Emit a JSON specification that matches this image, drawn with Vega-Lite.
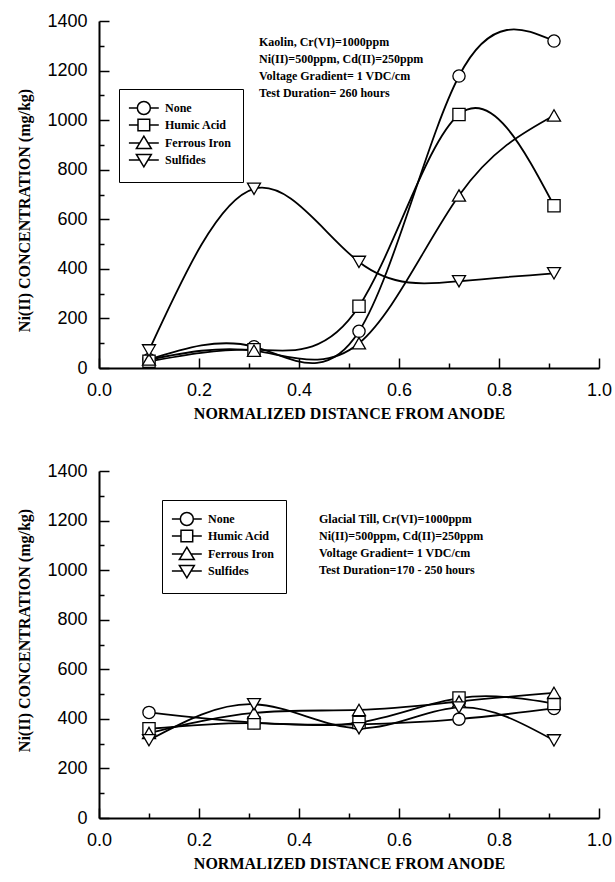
{
  "$schema": "https://vega.github.io/schema/vega-lite/v6.json",
  "padding": {"left": 16, "top": 12, "right": 0, "bottom": 0},
  "autosize": {"type": "pad"},
  "background": "white",
  "datasets": {
    "top": [
      {"series": "None", "x": 0.1, "y": 34},
      {"series": "None", "x": 0.31, "y": 86},
      {"series": "None", "x": 0.52, "y": 148},
      {"series": "None", "x": 0.72, "y": 1178},
      {"series": "None", "x": 0.91, "y": 1319},
      {"series": "Humic Acid", "x": 0.1, "y": 27},
      {"series": "Humic Acid", "x": 0.31, "y": 74},
      {"series": "Humic Acid", "x": 0.52, "y": 249},
      {"series": "Humic Acid", "x": 0.72, "y": 1023},
      {"series": "Humic Acid", "x": 0.91, "y": 655},
      {"series": "Ferrous Iron", "x": 0.1, "y": 34},
      {"series": "Ferrous Iron", "x": 0.31, "y": 70},
      {"series": "Ferrous Iron", "x": 0.52, "y": 100},
      {"series": "Ferrous Iron", "x": 0.72, "y": 696},
      {"series": "Ferrous Iron", "x": 0.91, "y": 1019},
      {"series": "Sulfides", "x": 0.1, "y": 71},
      {"series": "Sulfides", "x": 0.31, "y": 723},
      {"series": "Sulfides", "x": 0.52, "y": 428},
      {"series": "Sulfides", "x": 0.72, "y": 350},
      {"series": "Sulfides", "x": 0.91, "y": 382}
    ],
    "bottom": [
      {"series": "None", "x": 0.1, "y": 426},
      {"series": "None", "x": 0.31, "y": 385},
      {"series": "None", "x": 0.52, "y": 378},
      {"series": "None", "x": 0.72, "y": 399},
      {"series": "None", "x": 0.91, "y": 442},
      {"series": "Humic Acid", "x": 0.1, "y": 360},
      {"series": "Humic Acid", "x": 0.31, "y": 383},
      {"series": "Humic Acid", "x": 0.52, "y": 385},
      {"series": "Humic Acid", "x": 0.72, "y": 484},
      {"series": "Humic Acid", "x": 0.91, "y": 462},
      {"series": "Ferrous Iron", "x": 0.1, "y": 343},
      {"series": "Ferrous Iron", "x": 0.31, "y": 424},
      {"series": "Ferrous Iron", "x": 0.52, "y": 436},
      {"series": "Ferrous Iron", "x": 0.72, "y": 470},
      {"series": "Ferrous Iron", "x": 0.91, "y": 505},
      {"series": "Sulfides", "x": 0.1, "y": 314},
      {"series": "Sulfides", "x": 0.31, "y": 459},
      {"series": "Sulfides", "x": 0.52, "y": 362},
      {"series": "Sulfides", "x": 0.72, "y": 446},
      {"series": "Sulfides", "x": 0.91, "y": 313}
    ]
  },
  "vconcat": [
    {
      "width": 500,
      "height": 347,
      "data": {"name": "top"},
      "layer": [
        {
          "mark": {"type": "line", "interpolate": "natural", "color": "black", "strokeWidth": 1.8},
          "encoding": {
            "x": {"field": "x", "type": "quantitative", "scale": {"domain": [0, 1]},
              "axis": {"orient": "bottom", "values": [0, 0.2, 0.4, 0.6, 0.8, 1], "format": ".1f", "tickSize": -10, "labelPadding": 23, "title": "NORMALIZED DISTANCE FROM ANODE", "titlePadding": 6}},
            "y": {"field": "y", "type": "quantitative", "scale": {"domain": [0, 1400]},
              "axis": {"orient": "left", "values": [0, 200, 400, 600, 800, 1000, 1200, 1400], "format": "d", "tickSize": -10, "labelPadding": 22, "title": "Ni(II) CONCENTRATION (mg/kg)", "titlePadding": 14, "titleY": 189, "titleAnchor": "middle"}},
            "detail": {"field": "series"}
          }
        },
        {
          "transform": [{"filter": "datum.series === 'None'"}],
          "mark": {"type": "point", "shape": "circle", "filled": true, "fill": "white", "stroke": "black", "strokeWidth": 1.3, "size": 150, "opacity": 1},
          "encoding": {"x": {"field": "x", "type": "quantitative", "axis": null}, "y": {"field": "y", "type": "quantitative", "axis": null}}
        },
        {
          "transform": [{"filter": "datum.series === 'Humic Acid'"}],
          "mark": {"type": "point", "shape": "square", "filled": true, "fill": "white", "stroke": "black", "strokeWidth": 1.3, "size": 150, "opacity": 1},
          "encoding": {"x": {"field": "x", "type": "quantitative", "axis": null}, "y": {"field": "y", "type": "quantitative", "axis": null}}
        },
        {
          "transform": [{"filter": "datum.series === 'Ferrous Iron'"}],
          "mark": {"type": "point", "shape": "triangle-up", "filled": true, "fill": "white", "stroke": "black", "strokeWidth": 1.3, "size": 170, "opacity": 1},
          "encoding": {"x": {"field": "x", "type": "quantitative", "axis": null}, "y": {"field": "y", "type": "quantitative", "axis": null}}
        },
        {
          "transform": [{"filter": "datum.series === 'Sulfides'"}],
          "mark": {"type": "point", "shape": "triangle-down", "filled": true, "fill": "white", "stroke": "black", "strokeWidth": 1.3, "size": 170, "opacity": 1},
          "encoding": {"x": {"field": "x", "type": "quantitative", "axis": null}, "y": {"field": "y", "type": "quantitative", "axis": null}}
        },
        {
          "transform": [{"filter": "false"}],
          "mark": {"type": "point", "filled": false, "color": "black", "strokeWidth": 1.5, "opacity": 1, "size": 169},
          "encoding": {
            "x": {"field": "x", "type": "quantitative",
              "axis": {"orient": "bottom", "values": [0.1, 0.3, 0.5, 0.7, 0.9], "tickSize": -5, "labels": false, "domain": false, "title": null}},
            "y": {"field": "y", "type": "quantitative",
              "axis": {"orient": "left", "values": [100, 300, 500, 700, 900, 1100, 1300], "tickSize": -5, "labels": false, "domain": false, "title": null}},
            "shape": {"field": "series", "scale": {"domain": ["None", "Humic Acid", "Ferrous Iron", "Sulfides"], "range": [
              "M-1.4,0H-0.1M1.9,0H3.2M1.9,0A1,1,0,1,1,-0.1,0A1,1,0,1,1,1.9,0Z",
              "M-1.4,0H0M1.8,0H3.2M0,-0.9H1.8V0.9H0Z",
              "M-1.4,0H0.28M1.52,0H3.2M0.9,-1.05L2.05,0.85H-0.25Z",
              "M-1.4,0H0.28M1.52,0H3.2M0.9,1.05L2.05,-0.85H-0.25Z"
            ]},
              "legend": {"orient": "none", "legendX": 20, "legendY": 68, "title": null, "strokeColor": "black", "fillColor": "white", "padding": 11.5, "symbolSize": 169, "symbolStrokeColor": "black", "symbolStrokeWidth": 1.5, "labelFont": "Liberation Serif", "labelFontWeight": "bold", "labelFontSize": 12, "labelColor": "black", "labelOffset": 19.5, "rowPadding": -2}}
          }
        },
        {
          "data": {"values": [{"note": "Kaolin, Cr(VI)=1000ppm\nNi(II)=500ppm, Cd(II)=250ppm\nVoltage Gradient= 1 VDC/cm\nTest Duration= 260 hours"}]},
          "mark": {"type": "text", "font": "Liberation Serif", "fontWeight": "bold", "fontSize": 12, "align": "left", "baseline": "top", "lineHeight": 17, "lineBreak": "\n", "color": "black"},
          "encoding": {
            "x": {"datum": 0.32, "type": "quantitative", "axis": null},
            "y": {"datum": 1335, "type": "quantitative", "axis": null},
            "text": {"field": "note"}
          }
        }
      ],
      "resolve": {"axis": {"x": "independent", "y": "independent"}}
    },
    {
      "width": 500,
      "height": 347,
      "data": {"name": "bottom"},
      "layer": [
        {
          "mark": {"type": "line", "interpolate": "natural", "color": "black", "strokeWidth": 1.8},
          "encoding": {
            "x": {"field": "x", "type": "quantitative", "scale": {"domain": [0, 1]},
              "axis": {"orient": "bottom", "values": [0, 0.2, 0.4, 0.6, 0.8, 1], "format": ".1f", "tickSize": -10, "labelPadding": 23, "title": "NORMALIZED DISTANCE FROM ANODE", "titlePadding": 6}},
            "y": {"field": "y", "type": "quantitative", "scale": {"domain": [0, 1400]},
              "axis": {"orient": "left", "values": [0, 200, 400, 600, 800, 1000, 1200, 1400], "format": "d", "tickSize": -10, "labelPadding": 22, "title": "Ni(II) CONCENTRATION (mg/kg)", "titlePadding": 14, "titleY": 159, "titleAnchor": "middle"}},
            "detail": {"field": "series"}
          }
        },
        {
          "transform": [{"filter": "datum.series === 'None'"}],
          "mark": {"type": "point", "shape": "circle", "filled": true, "fill": "white", "stroke": "black", "strokeWidth": 1.3, "size": 150, "opacity": 1},
          "encoding": {"x": {"field": "x", "type": "quantitative", "axis": null}, "y": {"field": "y", "type": "quantitative", "axis": null}}
        },
        {
          "transform": [{"filter": "datum.series === 'Humic Acid'"}],
          "mark": {"type": "point", "shape": "square", "filled": true, "fill": "white", "stroke": "black", "strokeWidth": 1.3, "size": 150, "opacity": 1},
          "encoding": {"x": {"field": "x", "type": "quantitative", "axis": null}, "y": {"field": "y", "type": "quantitative", "axis": null}}
        },
        {
          "transform": [{"filter": "datum.series === 'Ferrous Iron'"}],
          "mark": {"type": "point", "shape": "triangle-up", "filled": true, "fill": "white", "stroke": "black", "strokeWidth": 1.3, "size": 170, "opacity": 1},
          "encoding": {"x": {"field": "x", "type": "quantitative", "axis": null}, "y": {"field": "y", "type": "quantitative", "axis": null}}
        },
        {
          "transform": [{"filter": "datum.series === 'Sulfides'"}],
          "mark": {"type": "point", "shape": "triangle-down", "filled": true, "fill": "white", "stroke": "black", "strokeWidth": 1.3, "size": 170, "opacity": 1},
          "encoding": {"x": {"field": "x", "type": "quantitative", "axis": null}, "y": {"field": "y", "type": "quantitative", "axis": null}}
        },
        {
          "transform": [{"filter": "false"}],
          "mark": {"type": "point", "filled": false, "color": "black", "strokeWidth": 1.5, "opacity": 1, "size": 169},
          "encoding": {
            "x": {"field": "x", "type": "quantitative",
              "axis": {"orient": "bottom", "values": [0.1, 0.3, 0.5, 0.7, 0.9], "tickSize": -5, "labels": false, "domain": false, "title": null}},
            "y": {"field": "y", "type": "quantitative",
              "axis": {"orient": "left", "values": [100, 300, 500, 700, 900, 1100, 1300], "tickSize": -5, "labels": false, "domain": false, "title": null}},
            "shape": {"field": "series", "scale": {"domain": ["None", "Humic Acid", "Ferrous Iron", "Sulfides"], "range": [
              "M-1.4,0H-0.1M1.9,0H3.2M1.9,0A1,1,0,1,1,-0.1,0A1,1,0,1,1,1.9,0Z",
              "M-1.4,0H0M1.8,0H3.2M0,-0.9H1.8V0.9H0Z",
              "M-1.4,0H0.28M1.52,0H3.2M0.9,-1.05L2.05,0.85H-0.25Z",
              "M-1.4,0H0.28M1.52,0H3.2M0.9,1.05L2.05,-0.85H-0.25Z"
            ]},
              "legend": {"orient": "none", "legendX": 63, "legendY": 29, "title": null, "strokeColor": "black", "fillColor": "white", "padding": 11.5, "symbolSize": 169, "symbolStrokeColor": "black", "symbolStrokeWidth": 1.5, "labelFont": "Liberation Serif", "labelFontWeight": "bold", "labelFontSize": 12, "labelColor": "black", "labelOffset": 19.5, "rowPadding": -2}}
          }
        },
        {
          "data": {"values": [{"note": "Glacial Till, Cr(VI)=1000ppm\nNi(II)=500ppm, Cd(II)=250ppm\nVoltage Gradient= 1 VDC/cm\nTest Duration=170 - 250 hours"}]},
          "mark": {"type": "text", "font": "Liberation Serif", "fontWeight": "bold", "fontSize": 12, "align": "left", "baseline": "top", "lineHeight": 17, "lineBreak": "\n", "color": "black"},
          "encoding": {
            "x": {"datum": 0.44, "type": "quantitative", "axis": null},
            "y": {"datum": 1226, "type": "quantitative", "axis": null},
            "text": {"field": "note"}
          }
        }
      ],
      "resolve": {"axis": {"x": "independent", "y": "independent"}}
    }
  ],
  "spacing": 103,
  "bounds": "flush",
  "resolve": {"scale": {"shape": "independent", "x": "independent", "y": "independent"}, "legend": {"shape": "independent"}},
  "config": {
    "view": {"stroke": null},
    "legend": {"strokeWidth": 1},
    "axis": {
      "grid": false,
      "domainColor": "black",
      "domainWidth": 2,
      "tickColor": "black",
      "tickWidth": 1.5,
      "labelFont": "Liberation Sans",
      "labelFontSize": 18,
      "labelColor": "black",
      "labelFlush": false,
      "labelOverlap": false,
      "titleFont": "Liberation Serif",
      "titleFontSize": 16,
      "titleFontWeight": "bold",
      "titleColor": "black"
    }
  }
}
